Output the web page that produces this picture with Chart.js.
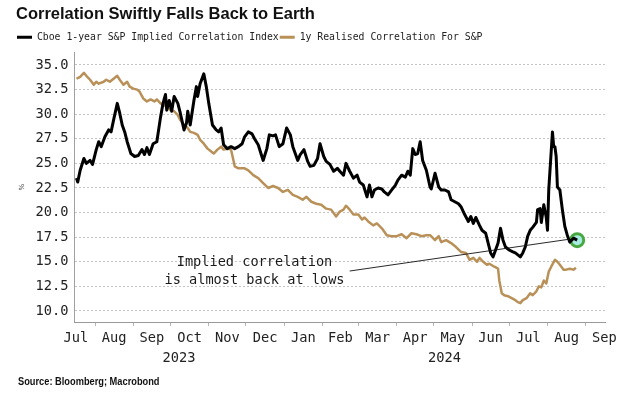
<!DOCTYPE html>
<html><head><meta charset="utf-8">
<script src="https://cdn.jsdelivr.net/npm/chart.js@4.4.1/dist/chart.umd.min.js"></script>
<style>html,body{margin:0;padding:0;background:#fff}#wrap{width:624px;height:394px}</style>
</head><body><div id="wrap"><canvas id="c" width="624" height="394"></canvas></div>
<script>
// ---------------- data ----------------
const impliedDates = [
'2023-07-17','2023-07-18','2023-07-20','2023-07-23','2023-07-25','2023-07-28','2023-07-30',
'2023-08-02','2023-08-04','2023-08-06','2023-08-09','2023-08-12','2023-08-14','2023-08-16','2023-08-19','2023-08-21','2023-08-23','2023-08-25','2023-08-27','2023-08-30',
'2023-09-02','2023-09-05','2023-09-08','2023-09-10','2023-09-12','2023-09-14','2023-09-17','2023-09-20','2023-09-23','2023-09-25','2023-09-27','2023-09-28','2023-09-30',
'2023-10-02','2023-10-04','2023-10-07','2023-10-09','2023-10-12','2023-10-14','2023-10-15','2023-10-17','2023-10-20','2023-10-22','2023-10-23','2023-10-25','2023-10-28','2023-10-30',
'2023-11-01','2023-11-04','2023-11-07','2023-11-09','2023-11-11','2023-11-13','2023-11-16','2023-11-19','2023-11-22','2023-11-25','2023-11-28','2023-11-30',
'2023-12-03','2023-12-06','2023-12-08','2023-12-11','2023-12-15','2023-12-18','2023-12-20','2023-12-23','2023-12-25','2023-12-28','2023-12-31',
'2024-01-03','2024-01-06','2024-01-08','2024-01-12','2024-01-14','2024-01-17','2024-01-20','2024-01-22','2024-01-25','2024-01-28','2024-01-30',
'2024-02-02','2024-02-04','2024-02-07','2024-02-10','2024-02-13','2024-02-15','2024-02-18','2024-02-20','2024-02-23','2024-02-26','2024-02-29',
'2024-03-02','2024-03-05','2024-03-08','2024-03-10','2024-03-12','2024-03-14','2024-03-17','2024-03-20','2024-03-22','2024-03-25','2024-03-28','2024-03-31',
'2024-04-02','2024-04-05','2024-04-08','2024-04-10','2024-04-12','2024-04-14','2024-04-16','2024-04-18','2024-04-20','2024-04-22','2024-04-25','2024-04-28','2024-04-29',
'2024-05-02','2024-05-05','2024-05-07','2024-05-10','2024-05-13','2024-05-15','2024-05-18','2024-05-21','2024-05-23','2024-05-26','2024-05-29','2024-05-31',
'2024-06-02','2024-06-04','2024-06-07','2024-06-09','2024-06-12','2024-06-14','2024-06-16','2024-06-18','2024-06-20','2024-06-22','2024-06-24','2024-06-26','2024-06-28',
'2024-07-01','2024-07-04','2024-07-06','2024-07-08','2024-07-10','2024-07-12','2024-07-14','2024-07-16','2024-07-18','2024-07-20','2024-07-23','2024-07-24','2024-07-26','2024-07-27','2024-07-29','2024-07-31',
'2024-08-01','2024-08-02','2024-08-05','2024-08-06','2024-08-07','2024-08-08','2024-08-09','2024-08-11','2024-08-13','2024-08-15','2024-08-17','2024-08-19','2024-08-22','2024-08-25'
];
const impliedValues = [
23.5,23.1,24.3,25.5,25.0,25.3,24.9,
26.4,27.2,26.7,27.7,28.4,28.2,29.4,31.1,30.1,28.9,28.2,27.2,26.0,
25.7,25.8,26.4,25.9,26.6,25.9,27.0,27.2,29.7,31.1,32.0,30.4,31.4,
30.3,31.8,31.1,30.1,28.4,29.1,30.3,28.9,31.4,32.8,31.8,33.1,34.1,32.8,
31.1,28.9,28.4,28.2,28.6,26.9,26.5,26.7,26.5,26.7,27.0,27.7,
28.2,28.0,27.5,26.9,25.3,26.5,27.9,27.8,27.9,26.7,27.0,
28.6,27.9,26.7,25.3,25.9,26.4,25.2,24.7,24.8,25.5,27.0,
25.7,25.2,24.9,24.2,24.5,24.2,23.8,25.0,24.2,23.5,23.8,
23.1,22.8,21.6,22.8,21.6,22.3,22.5,22.4,22.1,21.8,22.3,22.8,
23.3,23.8,23.6,24.2,23.8,26.5,25.9,26.0,27.2,25.3,24.3,22.6,22.4,
24.0,22.6,22.3,22.3,22.1,21.3,21.1,20.9,20.6,19.8,19.1,19.6,
18.9,19.5,18.7,18.2,17.9,16.9,15.9,15.5,16.2,16.9,18.4,17.2,16.5,
16.2,16.0,15.9,15.7,15.5,15.9,16.5,17.6,18.2,18.5,19.0,20.3,20.4,19.0,20.8,19.5,
18.2,22.3,28.2,26.7,26.7,25.7,22.6,22.3,20.3,18.6,17.7,17.0,17.4,17.2
];
const realisedDates = [
'2023-07-17','2023-07-20','2023-07-23','2023-07-25','2023-07-28','2023-07-31',
'2023-08-02','2023-08-04','2023-08-08','2023-08-10','2023-08-13','2023-08-16','2023-08-19','2023-08-21','2023-08-24','2023-08-27','2023-08-29',
'2023-09-01','2023-09-04','2023-09-06','2023-09-09','2023-09-12','2023-09-15','2023-09-18','2023-09-20','2023-09-23','2023-09-26','2023-09-28',
'2023-10-01','2023-10-04','2023-10-07','2023-10-09','2023-10-12','2023-10-15','2023-10-17','2023-10-20','2023-10-23','2023-10-25','2023-10-28','2023-10-31',
'2023-11-03','2023-11-05','2023-11-08','2023-11-11','2023-11-13','2023-11-16','2023-11-19','2023-11-21','2023-11-22','2023-11-25','2023-11-28','2023-11-30',
'2023-12-03','2023-12-07','2023-12-11','2023-12-15','2023-12-19','2023-12-23','2023-12-27','2023-12-31',
'2024-01-04','2024-01-08','2024-01-12','2024-01-16','2024-01-19','2024-01-23','2024-01-27','2024-01-31',
'2024-02-04','2024-02-08','2024-02-12','2024-02-15','2024-02-18','2024-02-20','2024-02-23','2024-02-26',
'2024-03-01','2024-03-04','2024-03-06','2024-03-09','2024-03-13','2024-03-16','2024-03-20','2024-03-24','2024-03-28',
'2024-04-01','2024-04-05','2024-04-09','2024-04-13','2024-04-17','2024-04-21','2024-04-25','2024-04-28',
'2024-05-02','2024-05-05','2024-05-07','2024-05-11','2024-05-15','2024-05-19','2024-05-23','2024-05-27','2024-05-30',
'2024-06-02','2024-06-05','2024-06-07','2024-06-10','2024-06-13','2024-06-15','2024-06-19','2024-06-22','2024-06-23','2024-06-25','2024-06-27','2024-06-30',
'2024-07-03','2024-07-06','2024-07-08','2024-07-10','2024-07-12','2024-07-15','2024-07-18','2024-07-20','2024-07-23','2024-07-25','2024-07-27','2024-07-29','2024-07-31',
'2024-08-02','2024-08-04','2024-08-07','2024-08-09','2024-08-11','2024-08-14','2024-08-16','2024-08-19','2024-08-22','2024-08-24'
];
const realisedValues = [
33.6,33.8,34.2,33.9,33.5,33.0,
33.3,33.1,33.3,33.5,33.3,33.6,33.9,33.5,33.0,33.3,32.8,
32.6,32.5,32.3,31.6,31.3,31.5,31.3,31.5,31.1,30.9,30.8,
30.4,30.3,29.9,29.4,28.9,28.6,28.2,28.1,27.9,27.4,27.0,26.5,
26.2,26.0,26.4,26.7,26.4,26.5,26.4,25.3,24.7,24.5,24.5,24.5,
24.3,23.8,23.5,23.0,22.5,22.7,22.5,22.1,
22.3,21.8,21.6,21.3,21.6,21.1,20.9,20.8,
20.4,20.3,19.6,20.1,20.3,20.7,20.3,19.8,
19.8,19.3,19.5,19.1,18.7,18.9,18.4,17.7,17.6,
17.6,17.8,17.4,17.9,17.8,17.6,17.7,17.7,
17.2,17.6,17.0,17.2,16.9,16.5,16.0,15.9,15.2,
15.4,15.0,15.4,15.0,14.7,14.8,14.5,14.3,13.1,11.8,11.6,11.5,
11.3,11.1,10.9,10.8,11.1,11.3,11.8,11.6,12.0,12.5,12.4,13.1,12.8,
14.0,14.5,15.2,15.0,14.7,14.2,14.2,14.3,14.2,14.4
];
const monthStarts = ['2023-07-01','2023-08-01','2023-09-01','2023-10-01','2023-11-01','2023-12-01','2024-01-01','2024-02-01','2024-03-01','2024-04-01','2024-05-01','2024-06-01','2024-07-01','2024-08-01','2024-09-01','2024-10-01'];
const monthNames = ['Jul','Aug','Sep','Oct','Nov','Dec','Jan','Feb','Mar','Apr','May','Jun','Jul','Aug','Sep'];
const yearStarts = ['2023-01-01','2024-01-01','2025-01-01'];
const yearNames = ['2023','2024'];
const yTicks = [10,12.5,15,17.5,20,22.5,25,27.5,30,32.5,35];
const sourceText = 'Source: Bloomberg; Macrobond';

// ---------------- helpers ----------------
const BASE = Date.UTC(2023,7,1);
const toDay = s => (Date.parse(s) - BASE) / 864e5;
const pts = (d, v) => d.map((s, i) => ({x: toDay(s), y: v[i]}));

const X_MIN = toDay('2023-07-15');
const X_MAX = toDay('2024-09-16') + 0.5;
const Y_MIN = 8.88, Y_MAX = 36.3;

const inRange = v => v >= X_MIN && v <= X_MAX;
const boundaryTicks = monthStarts.map(toDay).filter(inRange);
const monthTicks = monthNames.map((n, i) => ({v: (toDay(monthStarts[i]) + toDay(monthStarts[i+1])) / 2, n})).filter(t => inRange(t.v));
const yearTicks = yearNames.map((n, i) => {
  const a = Math.max(toDay(yearStarts[i]), X_MIN), b = Math.min(toDay(yearStarts[i+1]), X_MAX);
  return {v: (a + b) / 2, n};
});

const MONO = '"DejaVu Sans Mono", monospace';
const lastImp = {x: toDay(impliedDates[impliedDates.length-1]), y: impliedValues[impliedValues.length-1]};

const note = {
  lines: ['Implied correlation', 'is almost back at lows'],
  x: '2023-12-08', y: [14.9, 13.15],
  from: ['2024-02-23', 14.06], to: ['2024-08-19', 17.3]
};

const notePlugin = {
  id: 'note',
  afterDatasetsDraw(chart) {
    const {ctx, scales: {x, y}} = chart;
    ctx.save();
    ctx.strokeStyle = '#111';
    ctx.lineWidth = 0.9;
    ctx.beginPath();
    ctx.moveTo(x.getPixelForValue(toDay(note.from[0])), y.getPixelForValue(note.from[1]));
    ctx.lineTo(x.getPixelForValue(toDay(note.to[0])), y.getPixelForValue(note.to[1]));
    ctx.stroke();
    ctx.font = '13.6px ' + MONO;
    ctx.fillStyle = '#1a1a1a';
    ctx.textAlign = 'center';
    ctx.textBaseline = 'middle';
    note.lines.forEach((t, i) => ctx.fillText(t, x.getPixelForValue(toDay(note.x)), y.getPixelForValue(note.y[i])));
    ctx.restore();
  }
};

// source line, drawn in a condensed bold face below the axes
const sourcePlugin = {
  id: 'source',
  afterDraw(chart) {
    const {ctx} = chart;
    ctx.save();
    ctx.translate(18, 381.7);
    ctx.scale(0.82, 1);
    ctx.font = 'bold 11.3px "Liberation Sans", Arial, sans-serif';
    ctx.fillStyle = '#111';
    ctx.textAlign = 'left';
    ctx.textBaseline = 'middle';
    ctx.fillText(sourceText, 0, 0);
    ctx.restore();
  }
};

const GOLD = '#b99158';

new Chart(document.getElementById('c'), {
  type: 'line',
  data: {
    datasets: [
      {label: 'Cboe 1-year S&P Implied Correlation Index', data: pts(impliedDates, impliedValues),
       borderColor: '#000', backgroundColor: '#000', borderWidth: 3, pointRadius: 0, tension: 0, order: 0, borderJoinStyle: 'round'},
      {label: '1y Realised Correlation For S&P', data: pts(realisedDates, realisedValues),
       borderColor: GOLD, backgroundColor: GOLD, borderWidth: 2.5, pointRadius: 0, tension: 0, order: 1, borderJoinStyle: 'round'},
      {label: 'marker', data: [lastImp], showLine: false, pointRadius: 6.5, pointBorderWidth: 3,
       pointBorderColor: '#4aa843', pointBackgroundColor: '#a6ece2', borderColor: '#4aa843', backgroundColor: '#a6ece2', order: 2}
    ]
  },
  options: {
    responsive: false,
    animation: false,
    events: [],
    layout: {padding: {left: 16, right: 19, top: 2, bottom: 26}},
    plugins: {
      tooltip: {enabled: false},
      title: {display: true, text: 'Correlation Swiftly Falls Back to Earth', align: 'start', color: '#111',
              font: {family: '"Liberation Sans", Arial, sans-serif', size: 16.5, weight: 'bold'}, padding: {top: 2.1, bottom: 7.5}},
      legend: {display: true, position: 'top', align: 'start',
        labels: {boxWidth: 15, boxHeight: 3, padding: 1, color: '#222', font: {family: MONO, size: 9.8},
          filter: item => item.datasetIndex < 2,
          generateLabels: chart => Chart.defaults.plugins.legend.labels.generateLabels(chart).map(l => Object.assign(l, {lineWidth: 0, fillStyle: l.strokeStyle}))
        }
      }
    },
    scales: {
      x: {type: 'linear', position: 'bottom', min: X_MIN, max: X_MAX, weight: 0,
        afterBuildTicks: s => { s.ticks = boundaryTicks.map(v => ({value: v})); },
        ticks: {display: false},
        grid: {display: true, drawOnChartArea: false, drawTicks: true, tickLength: 4, color: '#b5b5b5'},
        border: {display: true, color: '#9a9a9a'},
        afterFit: s => { s.height = 6; }
      },
      xm: {type: 'linear', position: 'bottom', min: X_MIN, max: X_MAX, weight: 1,
        afterBuildTicks: s => { s.ticks = monthTicks.map(t => ({value: t.v})); },
        ticks: {autoSkip: false, maxRotation: 0, padding: 2, color: '#222', font: {family: MONO, size: 13.7},
                callback: (v, i) => monthTicks[i] ? monthTicks[i].n : ''},
        grid: {display: false, drawTicks: false}, border: {display: false},
        afterFit: s => { s.height = 20; }
      },
      xy: {type: 'linear', position: 'bottom', min: X_MIN, max: X_MAX, weight: 2,
        afterBuildTicks: s => { s.ticks = yearTicks.map(t => ({value: t.v})); },
        ticks: {autoSkip: false, maxRotation: 0, padding: 2, color: '#222', font: {family: MONO, size: 13.7},
                callback: (v, i) => yearTicks[i] ? yearTicks[i].n : ''},
        grid: {display: false, drawTicks: false}, border: {display: false},
        afterFit: s => { s.height = 20; }
      },
      y: {type: 'linear', position: 'left', min: Y_MIN, max: Y_MAX,
        afterBuildTicks: s => { s.ticks = yTicks.map(v => ({value: v})); },
        ticks: {padding: 5.5, color: '#222', font: {family: MONO, size: 13.7}, callback: v => Number(v).toFixed(1)},
        grid: {color: '#c4c4c4', lineWidth: 1, drawTicks: false},
        border: {display: true, color: '#a0a0a0', dash: [2, 2]},
        title: {display: true, text: '%', color: '#444', font: {family: '"DejaVu Sans", sans-serif', size: 7}, padding: {top: 2, bottom: 0}},
        afterFit: s => { s.width = 58; }
      }
    }
  },
  plugins: [notePlugin, sourcePlugin]
});
</script>
</body></html>
